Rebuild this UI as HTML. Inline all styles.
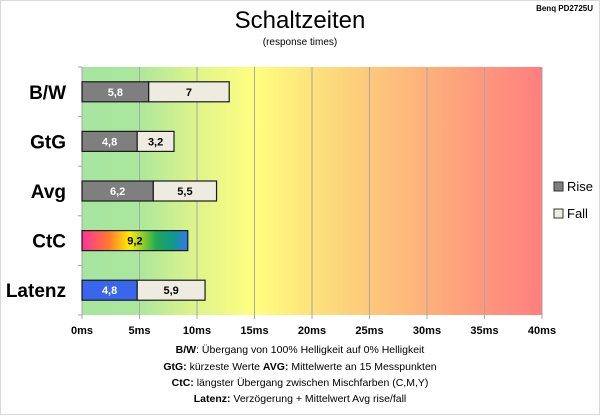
<!DOCTYPE html>
<html><head><meta charset="utf-8"><style>
html,body{margin:0;padding:0;background:#fff;}
body{width:600px;height:415px;overflow:hidden;font-family:"Liberation Sans",sans-serif;}
svg text{font-family:"Liberation Sans",sans-serif;}
</style></head><body>
<svg id="chart" width="600" height="415" viewBox="0 0 600 415" xmlns="http://www.w3.org/2000/svg">
<defs>
<linearGradient id="bg" x1="0" x2="1" y1="0" y2="0">
<stop offset="0" stop-color="#a6e6a0"/>
<stop offset="0.12" stop-color="#aae79c"/>
<stop offset="0.25" stop-color="#dff48a"/>
<stop offset="0.375" stop-color="#ffff80"/>
<stop offset="0.5" stop-color="#fde27c"/>
<stop offset="0.75" stop-color="#fdb07c"/>
<stop offset="1" stop-color="#ff7e7e"/>
</linearGradient>
<linearGradient id="rainbow" x1="0" x2="1" y1="0" y2="0">
<stop offset="0" stop-color="#ff3399"/>
<stop offset="0.25" stop-color="#ff7733"/>
<stop offset="0.45" stop-color="#ffee00"/>
<stop offset="0.7" stop-color="#22aa55"/>
<stop offset="0.85" stop-color="#119988"/>
<stop offset="1" stop-color="#3377ee"/>
</linearGradient>
</defs>
<rect x="0.5" y="0.5" width="599" height="414" fill="#fff" stroke="#d9d9d9"/>
<text x="300" y="28" text-anchor="middle" font-size="24" fill="#000">Schaltzeiten</text>
<text x="300" y="45" text-anchor="middle" font-size="10" fill="#000">(response times)</text>
<text x="593" y="11" text-anchor="end" font-size="8" font-weight="bold" fill="#000">Benq PD2725U</text>
<rect x="82" y="67" width="460" height="248" fill="url(#bg)"/>
<g id="grid"></g>
<g id="bars"></g>
<g id="cats"></g>
<g>
<rect x="554" y="182" width="9" height="9" fill="#7f7f7f" stroke="#333"/>
<text x="567" y="191" font-size="13">Rise</text>
<rect x="554" y="209" width="9" height="9" fill="#eeece1" stroke="#333"/>
<text x="567" y="218" font-size="13">Fall</text>
</g>
<g font-size="10.5" fill="#000" text-anchor="middle">
<text x="300" y="353"><tspan font-weight="bold">B/W</tspan>:  Übergang von 100% Helligkeit auf 0% Helligkeit</text>
<text x="300" y="370"><tspan font-weight="bold">GtG:</tspan> kürzeste  Werte       <tspan font-weight="bold">AVG:</tspan> Mittelwerte  an 15 Messpunkten</text>
<text x="300" y="386"><tspan font-weight="bold">CtC:</tspan> längster Übergang  zwischen Mischfarben  (C,M,Y)</text>
<text x="300" y="402"><tspan font-weight="bold">Latenz:</tspan> Verzögerung  + Mittelwert Avg rise/fall</text>
</g>
</svg>
<script>
const categories = ["B/W","GtG","Avg","CtC","Latenz"];
const riseValues = [5.8, 4.8, 6.2, 9.2, 4.8];
const fallValues = [7, 3.2, 5.5, 0, 5.9];
const xTicks = [0,5,10,15,20,25,30,35,40];
const riseLabels = ["5,8","4,8","6,2","9,2","4,8"];
const fallLabels = ["7","3,2","5,5","","5,9"];

const NS="http://www.w3.org/2000/svg";
const X0=82, X1=542, Y0=67, Y1=315, XMAX=40;
const xs=v=>X0+(v/XMAX)*(X1-X0);
const band=(Y1-Y0)/categories.length;
const yc=i=>Y0+band*(i+0.5);
function mk(tag,attrs,parent){const e=document.createElementNS(NS,tag);for(const k in attrs)e.setAttribute(k,attrs[k]);parent.appendChild(e);return e;}
const grid=document.getElementById('grid'), bars=document.getElementById('bars'), cats=document.getElementById('cats');
xTicks.forEach(t=>{
  const x=xs(t);
  const l=mk('line',{x1:x,x2:x,y1:Y0,y2:Y1+4,stroke:'#a6a6a6','stroke-width':1},grid);
  
  
  const tx=mk('text',{x:x,y:Y1+19,'text-anchor':'middle','font-size':11,'font-weight':'bold'},grid);
  tx.textContent=t+'ms';
  
  
});
const ax=mk('line',{x1:X0,x2:X0,y1:Y0,y2:Y1,stroke:'#a6a6a6'},grid);


for(let i=0;i<=categories.length;i++){
  const y=Y0+band*i;
  const tk=mk('line',{x1:X0-4,x2:X0,y1:y,y2:y,stroke:'#a6a6a6'},grid);
  
  
}
const bh=20;
categories.forEach((c,i)=>{
  const y=yc(i)-bh/2;
  const lab=mk('text',{x:66,y:yc(i)+7,'text-anchor':'end','font-size':19,'font-weight':'bold'},cats);
  lab.textContent=c;
  
  
  let riseFill='#7f7f7f', riseText='#fff';
  if(c==='CtC'){riseFill='url(#rainbow)';riseText='#000';}
  if(c==='Latenz'){riseFill='#3a66ee';}
  const r=mk('rect',{x:xs(0),y:y,width:xs(riseValues[i])-xs(0),height:bh,fill:riseFill,stroke:'#1a1a1a','stroke-width':1.2},bars);
  
  
  const rt=mk('text',{x:(xs(0)+xs(riseValues[i]))/2,y:yc(i)+4,'text-anchor':'middle','font-size':11,'font-weight':'bold',fill:riseText},bars);
  rt.textContent=riseLabels[i];
  
  
  if(fallValues[i]>0){
    const a=xs(riseValues[i]), b=xs(riseValues[i]+fallValues[i]);
    const f=mk('rect',{x:a,y:y,width:b-a,height:bh,fill:'#eeece1',stroke:'#1a1a1a','stroke-width':1.2},bars);
    
    
    const ft=mk('text',{x:(a+b)/2,y:yc(i)+4,'text-anchor':'middle','font-size':11,'font-weight':'bold',fill:'#000'},bars);
    ft.textContent=fallLabels[i];
    
    
  }
});
</script>
</body></html>
